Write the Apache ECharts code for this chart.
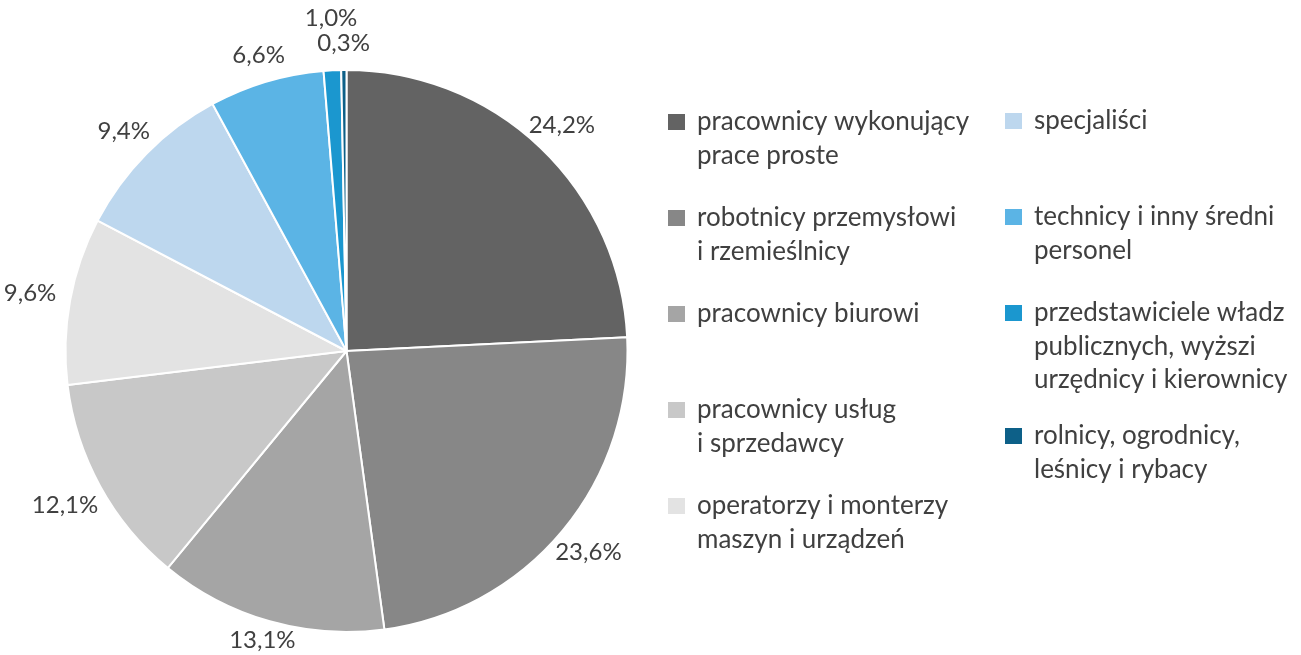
<!DOCTYPE html>
<html>
<head>
<meta charset="utf-8">
<style>
  html, body { margin: 0; padding: 0; background: #fff; }
  #main { width: 1301px; height: 655px; }
</style>
<script src="https://cdn.jsdelivr.net/npm/echarts@6/dist/echarts.min.js"></script>
</head>
<body>
<div id="main"></div>
<script>
// grupy zawodów i udział procentowy
const categories = [
  'pracownicy wykonujący prace proste',
  'robotnicy przemysłowi i rzemieślnicy',
  'pracownicy biurowi',
  'pracownicy usług i sprzedawcy',
  'operatorzy i monterzy maszyn i urządzeń',
  'specjaliści',
  'technicy i inny średni personel',
  'przedstawiciele władz publicznych, wyższi urzędnicy i kierownicy',
  'rolnicy, ogrodnicy, leśnicy i rybacy'
]
const shares = [24.2, 23.6, 13.1, 12.1, 9.6, 9.4, 6.6, 1.0, 0.3]
const legendText = [
  'pracownicy wykonujący\nprace proste',
  'robotnicy przemysłowi\ni rzemieślnicy',
  'pracownicy biurowi',
  'pracownicy usług\ni sprzedawcy',
  'operatorzy i monterzy\nmaszyn i urządzeń',
  'specjaliści',
  'technicy i inny średni\npersonel',
  'przedstawiciele władz\npublicznych, wyższi\nurzędnicy i kierownicy',
  'rolnicy, ogrodnicy,\nleśnicy i rybacy'
]
const colors = ['#636363', '#878787', '#a5a5a5', '#c8c8c8', '#e3e3e3', '#bdd7ee', '#5bb4e5', '#1b97cf', '#0d6088']

// uklad
const CX = 346.5
const CY = 351
const R = 281
const GAP = 14
const FONT = 'Lato'
const TEXT_COLOR = '#404040'
const LABEL_SIZE = 24
const LEGEND_SIZE = 26
const LH = 33.5
const legendX = [666, 1003]
const legendCol = [0, 0, 0, 0, 0, 1, 1, 1, 1]
const legendY = [122, 218, 314, 410, 506, 121, 217, 313, 436]

const fmt = v => v.toFixed(1).replace('.', ',') + '%'

const dom = document.getElementById('main')

// pozycje etykiet poza kołem (jak w Excelu)
const ctx = document.createElement('canvas').getContext('2d')
ctx.font = LABEL_SIZE + 'px ' + FONT
const total = shares.reduce((a, b) => a + b, 0)
let acc = 0
const labelPos = shares.map(v => {
  const mid = (acc + v / 2) / total * 2 * Math.PI
  acc += v
  const dx = Math.sin(mid)
  const dy = -Math.cos(mid)
  const w = ctx.measureText(fmt(v)).width
  const h = 25
  const ext = Math.min(w / 2 / Math.max(Math.abs(dx), 1e-6), h / 2 / Math.max(Math.abs(dy), 1e-6))
  const d = R + GAP + ext
  const y = Math.min(Math.max(CY + dy * d, h / 2 + 2), dom.clientHeight - h / 2 - 2)
  return { x: CX + dx * d, y: y, w: w, h: h }
})
// nachodzące etykiety - wcześniejszą przesuwamy w górę
for (let i = labelPos.length - 1; i > 0; i--) {
  const a = labelPos[i - 1]
  const b = labelPos[i]
  if (Math.abs(a.x - b.x) < (a.w + b.w) / 2 && Math.abs(a.y - b.y) < (a.h + b.h) / 2) {
    a.y = b.y - (a.h + b.h) / 2
  }
}

// osobna legenda dla każdej pozycji, pierwsza linia tekstu na wysokości kwadratu
const legends = categories.map((name, i) => {
  const n = legendText[i].split('\n').length
  return {
    data: [name],
    left: legendX[legendCol[i]],
    top: legendY[i] - (n - 0.5) * LH,
    padding: 0,
    icon: 'rect',
    itemWidth: 19,
    itemHeight: 18,
    selectedMode: false,
    formatter: () => '\n'.repeat(n - 1) + legendText[i],
    textStyle: {
      fontFamily: FONT,
      fontSize: LEGEND_SIZE,
      color: TEXT_COLOR,
      lineHeight: LH,
      padding: [0, 0, 0, 6]
    }
  }
})

const chart = echarts.init(dom)
chart.setOption({
  animation: false,
  backgroundColor: '#fff',
  legend: legends,
  series: [{
    type: 'pie',
    center: [CX, CY],
    radius: R,
    startAngle: 90,
    clockwise: true,
    avoidLabelOverlap: false,
    itemStyle: { borderColor: '#fff', borderWidth: 2 },
    emphasis: { disabled: true },
    label: {
      position: 'outside',
      formatter: p => fmt(p.value),
      fontFamily: FONT,
      fontSize: LABEL_SIZE,
      color: TEXT_COLOR
    },
    labelLine: { show: false },
    labelLayout: p => ({
      x: labelPos[p.dataIndex].x,
      y: labelPos[p.dataIndex].y,
      align: 'center',
      verticalAlign: 'middle'
    }),
    data: categories.map((name, i) => ({
      name: name,
      value: shares[i],
      itemStyle: { color: colors[i] }
    }))
  }]
})
</script>
</body>
</html>
